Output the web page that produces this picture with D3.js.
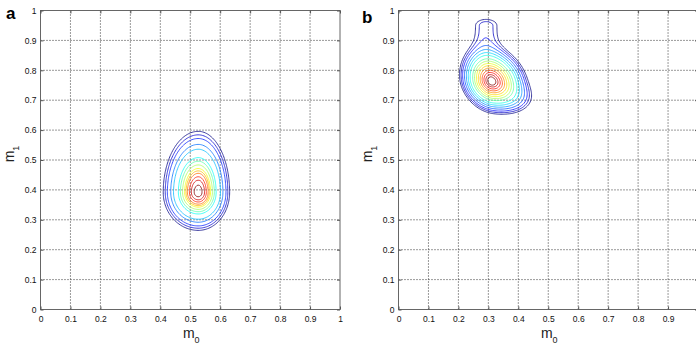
<!DOCTYPE html>
<html>
<head>
<meta charset="utf-8">
<script src="https://cdn.jsdelivr.net/npm/d3@7"></script>
<style>
  body { margin: 0; background: #fff; }
  svg text { font-family: "Liberation Sans", Arial, Helvetica, sans-serif; }
</style>
</head>
<body>
<svg id="chart" width="696" height="346"></svg>
<script>
// axis ticks (both panels share them)
const tickValues = [0, 0.1, 0.2, 0.3, 0.4, 0.5, 0.6, 0.7, 0.8, 0.9, 1];
const tickLabels = ["0", "0.1", "0.2", "0.3", "0.4", "0.5", "0.6", "0.7", "0.8", "0.9", "1"];
const gridValues = [0.1, 0.2, 0.3, 0.4, 0.5, 0.6, 0.7, 0.8, 0.9];

// panel a: posterior of (m0, m1) as split-normal components
const aMuX = [0.527];
const aMuY = [0.392];
const aSdLeft = [0.046];
const aSdRight = [0.041];
const aSdUp = [0.08];
const aSdDown = [0.05];
const aRho = [0];
const aWeight = [1];
const aLevels = [0.039, 0.056, 0.08, 0.135, 0.198, 0.35, 0.43, 0.52, 0.61, 0.67, 0.73, 0.81, 0.88, 0.956];

// panel b: main peak, lower-right bulge, upper tail
const bMuX = [0.311, 0.39, 0.292];
const bMuY = [0.763, 0.705, 0.95];
const bSdLeft = [0.042, 0.04, 0.034];
const bSdRight = [0.048, 0.04, 0.036];
const bSdUp = [0.048, 0.03, 0.02];
const bSdDown = [0.042, 0.03, 0.12];
const bRho = [-0.18, 0, 0];
const bWeight = [1, 0.06, 0.066];
const bLevels = [0.039, 0.053, 0.071, 0.099, 0.135, 0.18, 0.236, 0.325, 0.402, 0.487, 0.576, 0.667, 0.755, 0.835, 0.904, 0.956];

const svg = d3.select("#chart");
const N = 250;

// matlab jet colormap
const jet = d3.scaleLinear()
    .domain([0, 0.125, 0.375, 0.625, 0.875, 1])
    .range(["#000080", "#0000ff", "#00ffff", "#ffff00", "#ff0000", "#800000"]);

function density(c) {
    const values = new Float64Array(N * N);
    for (let j = 0; j < N; j++) {
        const y = (j + 0.5) / N;
        for (let i = 0; i < N; i++) {
            const x = (i + 0.5) / N;
            let v = 0;
            for (let k = 0; k < c.w.length; k++) {
                const ex = x - c.mx[k], ey = y - c.my[k];
                const dx = ex / (ex < 0 ? c.sl[k] : c.sr[k]);
                const dy = ey / (ey < 0 ? c.sd[k] : c.su[k]);
                const r = c.rho[k];
                v += c.w[k] * Math.exp(-0.5 / (1 - r * r) * (dx * dx - 2 * r * dx * dy + dy * dy));
            }
            values[i + j * N] = v;
        }
    }
    return values;
}

function panel(opts) {
    const x = d3.scaleLinear().domain([0, 1]).range([opts.left, opts.left + 299.5]);
    const y = d3.scaleLinear().domain([0, 1]).range([309.5, 10.5]);
    const g = svg.append("g");

    // dotted grid
    g.append("g").selectAll("line").data(gridValues).join("line")
        .attr("x1", d => x(d)).attr("x2", d => x(d))
        .attr("y1", y(0)).attr("y2", y(1))
        .attr("stroke", "#333").attr("stroke-width", 1)
        .attr("stroke-dasharray", "1,2");
    g.append("g").selectAll("line").data(gridValues).join("line")
        .attr("y1", d => y(d)).attr("y2", d => y(d))
        .attr("x1", x(0)).attr("x2", x(1))
        .attr("stroke", "#333").attr("stroke-width", 1)
        .attr("stroke-dasharray", "1,2");

    // contours
    const values = density(opts.comp);
    const vmax = d3.max(values);
    const path = d3.geoPath(d3.geoTransform({
        point(px, py) { this.stream.point(x(px / N), y(py / N)); }
    }));
    const n = opts.levels.length;
    const contours = d3.contours().size([N, N])
        .thresholds(opts.levels.map(l => l * vmax))(values);
    g.append("g").selectAll("path").data(contours).join("path")
        .attr("d", path)
        .attr("fill", "none")
        .attr("stroke", (d, i) => jet(i / (n - 1)))
        .attr("stroke-opacity", 0.75)
        .attr("stroke-width", 1);

    // frame
    g.append("rect")
        .attr("x", x(0)).attr("y", y(1))
        .attr("width", x(1) - x(0)).attr("height", y(0) - y(1))
        .attr("fill", "none").attr("stroke", "#666").attr("stroke-width", 1);

    const fmt = (d, i) => tickLabels[i];
    const styleAxis = sel => {
        sel.select(".domain").remove();
        sel.selectAll(".tick line").attr("stroke", "#555");
        sel.selectAll("text").attr("fill", "#111").style("font-size", "8.5px");
    };
    g.append("g").attr("transform", `translate(0,${y(0)})`)
        .call(d3.axisBottom(x).tickValues(tickValues).tickFormat(fmt).tickSizeInner(-3).tickSizeOuter(0).tickPadding(6))
        .call(styleAxis);
    g.append("g").attr("transform", `translate(${x(0)},0)`)
        .call(d3.axisLeft(y).tickValues(tickValues).tickFormat(fmt).tickSizeInner(-3).tickSizeOuter(0).tickPadding(4))
        .call(styleAxis);
    g.append("g").attr("transform", `translate(0,${y(1)})`)
        .call(d3.axisTop(x).tickValues(tickValues).tickFormat("").tickSizeInner(-3).tickSizeOuter(0))
        .call(styleAxis);
    g.append("g").attr("transform", `translate(${x(1)},0)`)
        .call(d3.axisRight(y).tickValues(tickValues).tickFormat("").tickSizeInner(-3).tickSizeOuter(0))
        .call(styleAxis);

    // axis titles
    const xt = g.append("text")
        .attr("x", (x(0) + x(1)) / 2 + 1).attr("y", 338)
        .attr("text-anchor", "middle").attr("fill", "#222")
        .style("font-size", "14px");
    xt.append("tspan").text("m");
    xt.append("tspan").attr("dy", 5).style("font-size", "9px").text("0");

    const yt = g.append("text")
        .attr("transform", `translate(${x(0) - 27},${(y(0) + y(1)) / 2 - 6}) rotate(-90)`)
        .attr("text-anchor", "middle").attr("fill", "#222")
        .style("font-size", "14px");
    yt.append("tspan").text("m");
    yt.append("tspan").attr("dy", 5).style("font-size", "9px").text("1");

    g.append("text")
        .attr("x", opts.labelX).attr("y", opts.labelY)
        .attr("fill", "#000").style("font-size", "17px").style("font-weight", "bold")
        .text(opts.label);
}

panel({ left: 40.5, levels: aLevels, label: "a", labelX: 6, labelY: 18.5,
        comp: { mx: aMuX, my: aMuY, sl: aSdLeft, sr: aSdRight, su: aSdUp, sd: aSdDown, rho: aRho, w: aWeight } });
panel({ left: 398.5, levels: bLevels, label: "b", labelX: 362, labelY: 23,
        comp: { mx: bMuX, my: bMuY, sl: bSdLeft, sr: bSdRight, su: bSdUp, sd: bSdDown, rho: bRho, w: bWeight } });
</script>
</body>
</html>
